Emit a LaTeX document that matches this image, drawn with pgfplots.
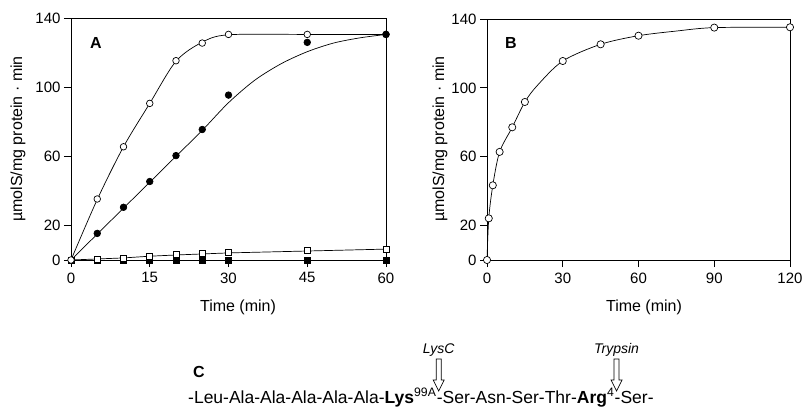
\documentclass[border=0pt]{standalone}
\usepackage{fontspec}
\setmainfont{Liberation Sans}
\usepackage{pgfplots}
\pgfplotsset{compat=1.18}
\begin{document}
\begin{tikzpicture}[x=1pt,y=1pt]
\useasboundingbox (0,0) rectangle (803,408);
\pgfplotsset{
  panel/.style={
    scale only axis,
    anchor=south west,
    axis line style={line width=0.9pt},
    tick align=outside,
    tick pos=left,
    major tick length=7pt,
    every tick/.style={line width=0.9pt, black},
    ymin=0, ymax=140,
    ytick={0,20,60,100,140},
    tick label style={font=\fontsize{15}{17}\selectfont},
    xticklabel style={yshift=-2pt},
    /pgf/number format/assume math mode=true,
    clip=false,
    every axis plot/.append style={line width=0.7pt, black},
  },
  oc/.style={only marks, mark=*, mark size=3.3pt, mark options={fill=white, draw=black, line width=0.7pt}},
  fc/.style={only marks, mark=*, mark size=3.3pt, mark options={fill=black, draw=black}},
  os/.style={only marks, mark=square*, mark size=3pt, mark options={fill=white, draw=black, line width=0.7pt}},
  fs/.style={only marks, mark=square*, mark size=3pt, mark options={fill=black, draw=black}},
}
% Panel A
\begin{axis}[panel, at={(71pt,148pt)}, width=315pt, height=242pt,
  xmin=0, xmax=60, xtick={0,15,30,45,60}]
\addplot[no marks, smooth] coordinates {(0,0) (5,35) (10,65.5) (15,90.6) (20,115) (25,126) (30,130.3) (45,130.5) (60,130.5)};
\addplot[no marks, smooth] coordinates {(0,0) (5,15) (10,30) (15,45) (20,60) (25,75) (30,91) (35,104) (40,113.5) (45,120.5) (50,125.5) (55,128.5) (60,130.5)};
\addplot[no marks] coordinates {(0,0) (5,0.6) (10,1.2) (15,2.2) (20,2.9) (25,3.5) (30,4.1) (45,5.2) (60,6.3)};
\addplot[no marks] coordinates {(0,0) (60,0)};
\addplot[fs] coordinates {(0,0) (5,0) (10,0) (15,0) (20,0) (25,0) (30,0) (45,0) (60,0)};
\addplot[os] coordinates {(5,0.6) (10,1.2) (15,2.3) (20,3.3) (25,3.9) (30,4.3) (45,5.4) (60,6.4)};
\addplot[oc] coordinates {(0,0) (5,35.3) (10,65.5) (15,90.6) (20,115.3) (25,125.5) (30,130.5) (45,130.5) (60,130.5)};
\addplot[fc] coordinates {(5,15.4) (10,30.5) (15,45.4) (20,60.4) (25,75.5) (30,95.4) (45,125.9) (60,130.5)};
\end{axis}
% Panel B
\begin{axis}[panel, at={(487pt,148pt)}, width=303pt, height=241pt,
  xmin=0, xmax=120, xtick={0,30,60,90,120}]
\addplot[no marks, smooth] coordinates {(0,0) (0.7,24.2) (2.3,43.4) (5,62.8) (10,77.1) (15,91.8) (20,101.5) (30,115.6) (45,125.3) (60,130.3) (75,133) (90,135) (120,135.2)};
\addplot[oc, mark size=3.6pt] coordinates {(0,0) (0.7,24.2) (2.3,43.4) (5,62.8) (10,77.1) (15,91.8) (30,115.6) (45,125.3) (60,130.3) (90,135) (120,135.2)};
\end{axis}
% labels
\node[rotate=90, font=\fontsize{16}{18}\selectfont] at (18,269) {µmolS/mg protein · min};
\node[rotate=90, font=\fontsize{16}{18}\selectfont] at (440,269) {µmolS/mg protein · min};
\node[font=\fontsize{16}{18}\selectfont] at (238,101) {Time (min)};
\node[font=\fontsize{16}{18}\selectfont] at (644,101) {Time (min)};
\node[font=\bfseries\fontsize{16}{18}\selectfont] at (96,365) {A};
\node[font=\bfseries\fontsize{16}{18}\selectfont] at (511,365) {B};
% Panel C
\node[anchor=base west, inner sep=0, font=\bfseries\fontsize{16}{18}\selectfont] at (193,31) {C};
\tikzset{seq/.style={anchor=base west, inner sep=0, font=\fontsize{17.5}{20}\selectfont}}
\node[seq] (s1) at (188,5) {-Leu-Ala-Ala-Ala-Ala-Ala-\textbf{Lys}\textsuperscript{99A}};
\node[seq] (s2) at (s1.base east) {-Ser-Asn-Ser-Thr-\textbf{Arg}\textsuperscript{4}};
\node[seq] (s3) at (s2.base east) {-Ser-};
\coordinate (o) at (0,0);
\foreach \n/\lab in {s1/LysC, s2/Trypsin}{
  \begin{scope}[shift={(\n.base east |- o)}, xshift=2pt]
    \draw[line width=0.7pt] (-2.5,49) -- (-2.5,28) -- (-5.5,28) -- (0,17) -- (5.5,28) -- (2.5,28) -- (2.5,49) -- cycle;
    \node[font=\itshape\fontsize{14}{16}\selectfont] at (0,58) {\lab};
  \end{scope}
}
\end{tikzpicture}
\end{document}
